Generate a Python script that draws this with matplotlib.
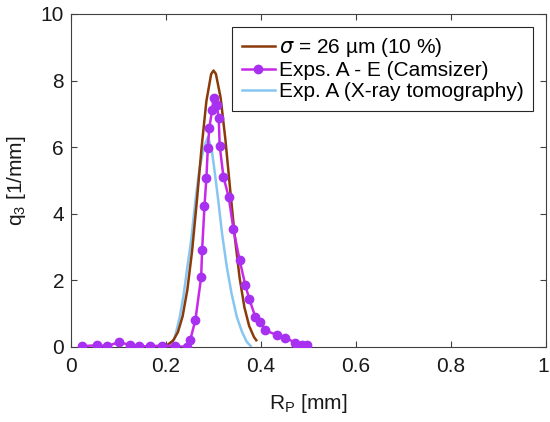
import matplotlib
matplotlib.use("Agg")
import matplotlib.pyplot as plt
import matplotlib.transforms as mtransforms

plt.rcParams['font.family'] = ['Liberation Sans', 'DejaVu Sans']
plt.rcParams['mathtext.fontset'] = 'dejavusans'

# Gaussian size distribution, sigma = 26 um
fit_r = [0.205, 0.215, 0.225, 0.235, 0.245, 0.255, 0.265, 0.275, 0.285, 0.295,
         0.300, 0.305, 0.315, 0.325, 0.335, 0.345, 0.355, 0.365, 0.375, 0.385, 0.390]
fit_q = [0.08, 0.19, 0.44, 0.92, 1.72, 2.89, 4.39, 6.00, 7.38, 8.19,
         8.30, 8.20, 7.48, 6.23, 4.73, 3.28, 2.07, 1.19, 0.63, 0.30, 0.20]

# Camsizer, experiments A - E
cam_r = [0.023, 0.055, 0.076, 0.102, 0.124, 0.144, 0.167, 0.192, 0.220, 0.244,
         0.251, 0.262, 0.274, 0.276, 0.281, 0.285, 0.288, 0.291, 0.297, 0.300,
         0.307, 0.311, 0.313, 0.321, 0.332, 0.342, 0.355, 0.367, 0.375, 0.388,
         0.398, 0.409, 0.434, 0.451, 0.472, 0.486, 0.497]
cam_q = [0.02, 0.05, 0.02, 0.15, 0.05, 0.02, 0.02, 0.04, 0.02, 0.00,
         0.20, 0.82, 2.10, 2.90, 4.23, 5.07, 5.96, 6.56, 7.11, 7.46,
         7.26, 6.86, 6.04, 5.10, 4.50, 3.53, 2.60, 1.85, 1.45, 0.90,
         0.75, 0.50, 0.35, 0.28, 0.12, 0.05, 0.05]

# X-ray tomography, experiment A
ct_r = [0.208, 0.218, 0.229, 0.237, 0.245, 0.253, 0.262, 0.270, 0.279, 0.288,
        0.296, 0.303, 0.310, 0.318, 0.328, 0.338, 0.349, 0.360, 0.370, 0.378]
ct_q = [0.05, 0.25, 0.90, 1.55, 2.40, 3.20, 4.40, 5.30, 5.95, 6.30,
        5.95, 5.20, 4.40, 3.40, 2.40, 1.60, 0.90, 0.45, 0.15, 0.03]

fs = 15
fig = plt.figure(figsize=(5.5, 4.22), dpi=100)
ax = fig.add_axes([0.129, 0.178, 0.864, 0.789])

ax.plot(fit_r, fit_q, color='#8B3A0A', lw=1.8, label=r'$\sigma$ = 26 µm (10 %)', zorder=3)
ax.plot(cam_r, cam_q, color='#C828E8', lw=1.8, marker='o', ms=6,
        mfc='#A830F0', mec='#A830F0', label='Exps. A - E (Camsizer)', zorder=4)
ax.plot(ct_r, ct_q, color='#86C6F0', lw=1.8, label='Exp. A (X-ray tomography)', zorder=2)

ax.set_xlim(0, 1)
ax.set_ylim(0, 10)
ax.set_xticks([0, 0.2, 0.4, 0.6, 0.8, 1])
ax.set_xticklabels(['0', '0.2', '0.4', '0.6', '0.8', '1'])
ax.set_yticks([0, 2, 4, 6, 8, 10])
ax.tick_params(direction='in', top=True, right=True, labelsize=fs, length=4,
               color='#404040', labelcolor='#1a1a1a')
ax.tick_params(axis='x', pad=7)
ax.tick_params(axis='y', pad=5)
for s in ax.spines.values():
    s.set_color('#404040')
    s.set_linewidth(0.8)

# keep the last x tick label inside the picture
last = ax.get_xticklabels()[-1]
last.set_transform(last.get_transform() +
                   mtransforms.ScaledTranslation(-3 / 100, 0, fig.dpi_scale_trans))

ax.set_xlabel(r'R$_\mathregular{P}$ [mm]', fontsize=fs, color='#1a1a1a', labelpad=12)
ax.set_ylabel(r'q$_\mathregular{3}$ [1/mm]', fontsize=fs, color='#1a1a1a', labelpad=9)

leg = ax.legend(loc='upper right', fontsize=fs, frameon=True, fancybox=False,
                edgecolor='#262626', framealpha=1, handlelength=1.6,
                handletextpad=0.2, borderaxespad=0.62, borderpad=0.45,
                labelspacing=0.1)
leg.get_frame().set_linewidth(0.8)

fig.savefig('out.png', dpi=100)
